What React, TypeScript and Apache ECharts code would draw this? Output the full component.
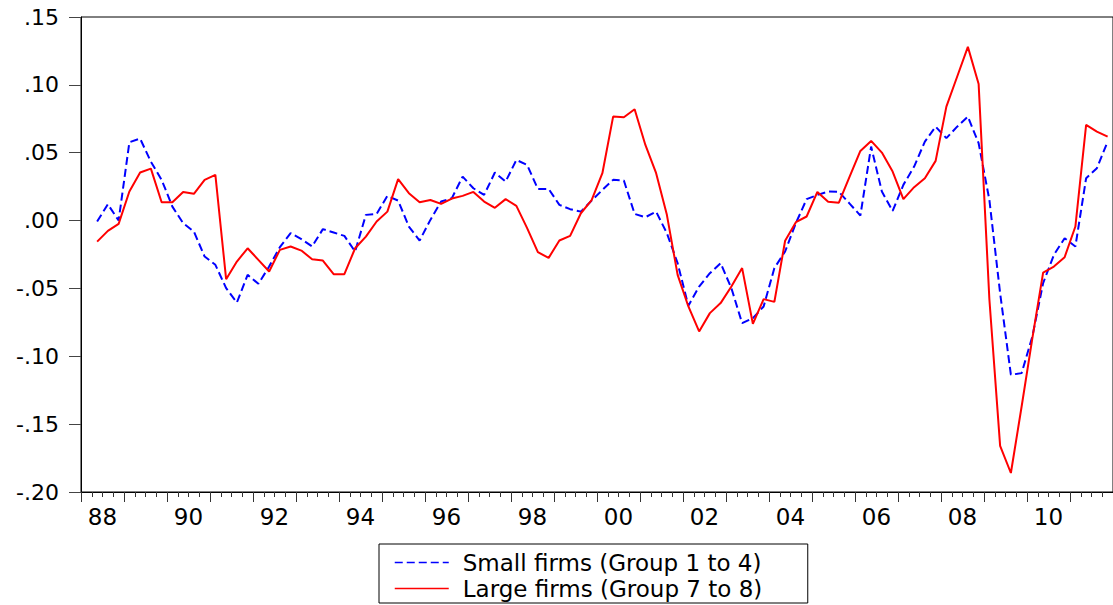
import React, { useEffect, useRef } from "react";
import * as echarts from "echarts";

const FONT = "DejaVu Sans";

// Quarterly categories 1988Q1 .. 2011Q4 (first quarter has no observation)
const years: string[] = [];
for (let y = 1988; y <= 2011; y++) years.push(String(y));
const quarters: string[] = [];
years.forEach((y) => { for (let q = 1; q <= 4; q++) quarters.push(y + "Q" + q); });

const yearLabels: string[] = years.map((y) => y.slice(2));

const seriesNames = ["Small firms (Group 1 to 4)", "Large firms (Group 7 to 8)"];

const smallFirms: (number | null)[] = [
  null,
  -0.0007, 0.012, 0.0, 0.0577, 0.0604, 0.0434, 0.030, 0.0103, -0.0019, -0.0081,
  -0.0265, -0.0326, -0.0498, -0.0604, -0.040, -0.0466, -0.0339, -0.0196, -0.0093, -0.0137,
  -0.0191, -0.0063, -0.0088, -0.0113, -0.0228, 0.0042, 0.0049, 0.0182, 0.0147, -0.0044,
  -0.0147, 0.0005, 0.014, 0.0165, 0.0324, 0.0238, 0.0189, 0.0354, 0.0287, 0.0447,
  0.041, 0.0233, 0.0233, 0.0116, 0.0084, 0.0066, 0.0147, 0.0226, 0.030, 0.0295,
  0.0049, 0.0025, 0.0066, -0.0093, -0.0314, -0.0628, -0.0486, -0.0388, -0.0314, -0.0498,
  -0.0756, -0.0719, -0.0633, -0.035, -0.0228, -0.0019, 0.0158, 0.0189, 0.0214, 0.0212,
  0.0125, 0.0037, 0.0545, 0.0214, 0.0071, 0.0263, 0.0398, 0.0582, 0.0692, 0.0607,
  0.0692, 0.0766, 0.057, 0.0152, -0.0535, -0.1136, -0.1124, -0.0854, -0.0461, -0.0253,
  -0.013, -0.0191, 0.0312, 0.0386, 0.0582,
];

const largeFirms: (number | null)[] = [
  null,
  -0.0155, -0.0076, -0.0024, 0.0214, 0.0354, 0.0383, 0.0135, 0.0135, 0.0211, 0.0197,
  0.030, 0.0337, -0.0432, -0.0302, -0.0204, -0.029, -0.0375, -0.0216, -0.0191, -0.0221,
  -0.0285, -0.0295, -0.0395, -0.0395, -0.0204, -0.0118, -0.0007, 0.0066, 0.0305, 0.0202,
  0.0135, 0.0152, 0.0123, 0.0162, 0.0182, 0.0211, 0.014, 0.0094, 0.0158, 0.0108,
  -0.0056, -0.0233, -0.0275, -0.0147, -0.0113, 0.0054, 0.015, 0.0349, 0.0766, 0.0761,
  0.082, 0.0557, 0.0349, 0.0042, -0.040, -0.0633, -0.0817, -0.0682, -0.0608, -0.0486,
  -0.035, -0.0761, -0.0579, -0.0599, -0.0149, -0.0012, 0.003, 0.0211, 0.0138, 0.0132,
  0.0324, 0.0513, 0.0587, 0.0501, 0.0361, 0.0158, 0.0246, 0.0312, 0.044, 0.084,
  0.106, 0.128, 0.1007, -0.058, -0.166, -0.186, -0.137, -0.0866, -0.0383, -0.0339,
  -0.027, -0.0044, 0.0705, 0.0656, 0.0619,
];

const yMin = -0.2;
const yMax = 0.15;
const yStep = 0.05;

function fmtY(v: number): string {
  const s = v.toFixed(2);
  return s.replace(/^0\./, ".").replace(/^-0\./, "-.");
}

export default function App() {
  const ref = useRef<HTMLDivElement>(null);
  useEffect(() => {
    if (!ref.current) return;
    const chart = echarts.init(ref.current, undefined, { renderer: "svg" });
    chart.setOption({
      animation: false,
      backgroundColor: "#fff",
      textStyle: { fontFamily: FONT },
      grid: {
        left: 81, top: 17, width: 1033, height: 475,
        show: true, borderColor: "#000", borderWidth: 1, backgroundColor: "transparent",
      },
      xAxis: [
        {
          type: "category",
          data: quarters,
          position: "bottom",
          boundaryGap: true,
          axisLine: { show: true, onZero: false, lineStyle: { color: "#000", width: 1 } },
          axisTick: { show: true, interval: 0, length: 5, lineStyle: { color: "#333" } },
          axisLabel: { show: false },
          splitLine: { show: false },
        },
        {
          type: "category",
          data: yearLabels,
          position: "bottom",
          boundaryGap: true,
          axisLine: { show: false, onZero: false },
          axisTick: { show: true, interval: 0, length: 10, lineStyle: { color: "#333" } },
          axisLabel: {
            show: true, interval: 1, margin: 13,
            fontFamily: FONT, fontSize: 23, color: "#000",
          },
          splitLine: { show: false },
        },
      ],
      yAxis: {
        type: "value",
        min: yMin, max: yMax, interval: yStep,
        axisLine: { show: true, lineStyle: { color: "#000", width: 1 } },
        axisTick: { show: true, length: 12, lineStyle: { color: "#444" } },
        axisLabel: {
          margin: 22, fontFamily: FONT, fontSize: 22, color: "#000",
          formatter: (v: number) => fmtY(v),
        },
        splitLine: { show: false },
      },
      legend: {
        orient: "vertical",
        left: 379, top: 544,
        itemWidth: 54, itemHeight: 22, itemGap: 3,
        padding: [7, 10, 3, 15],
        borderColor: "#000", borderWidth: 1,
        backgroundColor: "#fff",
        data: seriesNames,
        itemStyle: { opacity: 0 },
        lineStyle: { width: 1.5 },
        textStyle: {
          fontFamily: FONT, fontSize: 23, color: "#000",
          padding: [0, 0, 0, 9], width: 335, lineHeight: 22,
        },
      },
      series: [
        {
          name: seriesNames[0],
          type: "line",
          xAxisIndex: 0,
          data: smallFirms,
          symbol: "none",
          color: "#0000FF",
          lineStyle: { color: "#0000FF", width: 2, type: [8, 4] },
        },
        {
          name: seriesNames[1],
          type: "line",
          xAxisIndex: 0,
          data: largeFirms,
          symbol: "none",
          color: "#FF0000",
          lineStyle: { color: "#FF0000", width: 2, type: "solid" },
        },
      ],
    });
    return () => chart.dispose();
  }, []);
  return (
    <div
      ref={ref}
      style={{ position: "fixed", left: 0, top: 0, width: 1113, height: 605, background: "#fff" }}
    />
  );
}
